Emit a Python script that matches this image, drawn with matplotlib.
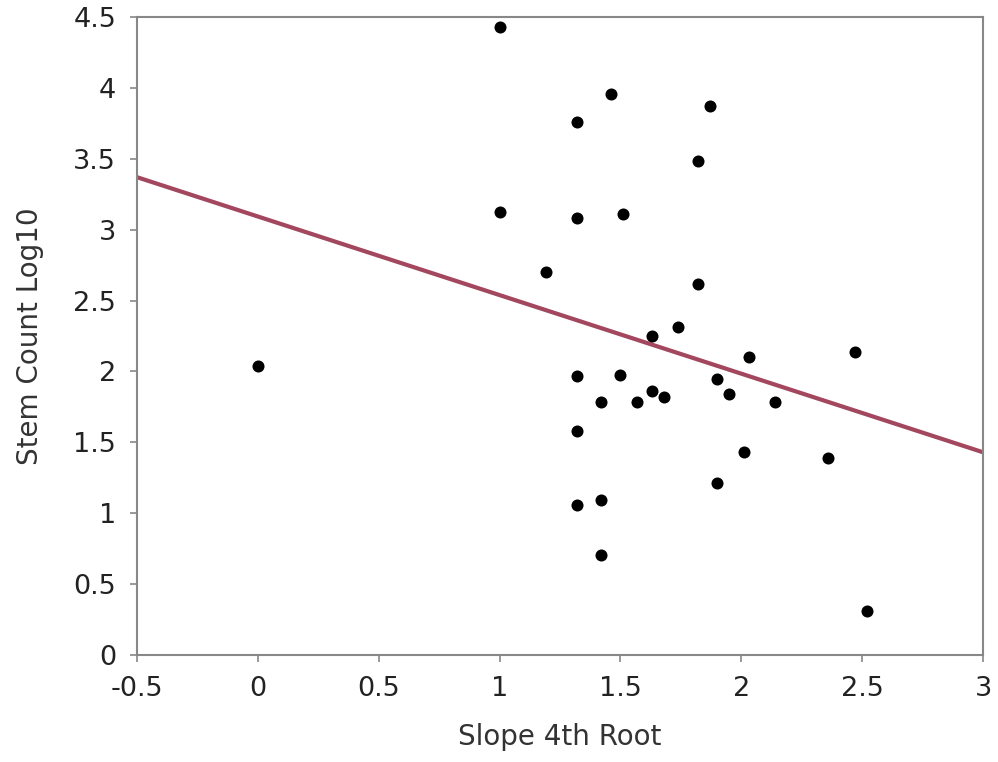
import matplotlib
matplotlib.use("Agg")
import matplotlib.pyplot as plt
import numpy as np

plt.rcParams['font.family'] = ['DejaVu Sans']

slope_4th_root = [1.00, 1.46, 1.87, 1.32, 1.82, 1.00, 1.32, 1.51, 1.19, 1.82,
                  1.74, 1.63, 0.00, 2.03, 2.47, 1.32, 1.50, 1.90, 1.42, 1.57,
                  1.63, 1.68, 1.95, 2.14, 1.32, 2.01, 2.36, 1.90, 1.42, 1.32,
                  1.42, 2.52]
stem_count_log10 = [4.43, 3.96, 3.87, 3.76, 3.485, 3.125, 3.08, 3.11, 2.70, 2.62,
                    2.31, 2.25, 2.04, 2.10, 2.14, 1.97, 1.975, 1.95, 1.785, 1.785,
                    1.86, 1.82, 1.84, 1.785, 1.58, 1.43, 1.39, 1.21, 1.09, 1.06,
                    0.705, 0.31]
fit_x = [-0.5, 3.0]
fit_y = [3.37, 1.43]

x_ticks = [-0.5, 0, 0.5, 1, 1.5, 2, 2.5, 3]
x_tick_labels = ['-0.5', '0', '0.5', '1', '1.5', '2', '2.5', '3']
y_ticks = [0, 0.5, 1, 1.5, 2, 2.5, 3, 3.5, 4, 4.5]
y_tick_labels = ['0', '0.5', '1', '1.5', '2', '2.5', '3', '3.5', '4', '4.5']

fig = plt.figure(figsize=(9.98, 7.62), dpi=100)
ax = fig.add_axes([0.1373, 0.1404, 0.8477, 0.8373])

ax.plot(fit_x, fit_y, color='#a3475f', lw=3, zorder=2)
ax.scatter(slope_4th_root, stem_count_log10, s=75, color='black', zorder=3, linewidths=0)

ax.set_xlim(-0.5, 3)
ax.set_ylim(0, 4.5)
ax.set_xticks(x_ticks)
ax.set_xticklabels(x_tick_labels)
ax.set_yticks(y_ticks)
ax.set_yticklabels(y_tick_labels)

for sp in ax.spines.values():
    sp.set_color('#888888')
    sp.set_linewidth(1.5)

ax.tick_params(axis='both', direction='out', length=5, width=1.2, color='#888888',
               labelsize=19.5, labelcolor='#222222')
ax.tick_params(axis='x', pad=10)
ax.tick_params(axis='y', pad=10)

ax.set_xlabel('Slope 4th Root', fontsize=20, color='#333333', labelpad=15)
ax.set_ylabel('Stem Count Log10', fontsize=20, color='#333333', labelpad=21)

fig.savefig('out.png', dpi=100)
